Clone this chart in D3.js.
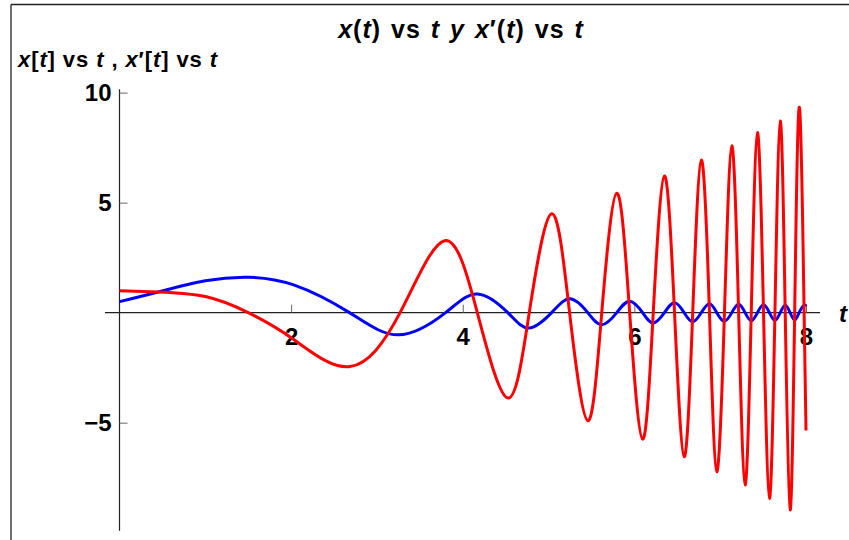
<!DOCTYPE html>
<html>
<head>
<meta charset="utf-8">
<script src="https://cdn.jsdelivr.net/npm/d3@7"></script>
<style>
  body { margin: 0; background: #fff; }
  svg { display: block; font-family: "Liberation Sans", Arial, sans-serif; }
</style>
</head>
<body>
<svg id="chart" width="849" height="540"></svg>
<script>
// x(t): blue curve (extrema, zero crossings, a few in between)
const tX = [0, 0.45, 1.0, 1.5, 2.03, 2.68, 3.25, 3.80, 4.17, 4.525, 4.77, 5.036, 5.25, 5.457, 5.62, 5.795,
            5.945, 6.096, 6.22, 6.35, 6.468, 6.58, 6.68, 6.78, 6.875, 6.96, 7.05, 7.135, 7.215, 7.29, 7.362,
            7.434, 7.505, 7.574, 7.638, 7.70, 7.758, 7.815, 7.868, 7.92, 7.975, 8.0];
const xVals = [0.5, 0.94, 1.45, 1.61, 1.26, 0, -1.01, 0, 0.85, 0, -0.70, 0, 0.63, 0, -0.55, 0,
               0.52, 0, -0.47, 0, 0.45, 0, -0.42, 0, 0.40, 0, -0.39, 0, 0.38, 0, -0.37,
               0, 0.36, 0, -0.35, 0, 0.34, 0, -0.34, 0, 0.33, 0.28];

// x'(t): red curve
const tV = [0, 0.45, 1.0, 1.5, 2.03, 2.686, 3.27, 3.79, 4.17, 4.525, 4.775, 5.036, 5.245, 5.457, 5.62, 5.795,
            5.945, 6.096, 6.22, 6.35, 6.468, 6.58, 6.68, 6.78, 6.875, 6.96, 7.05, 7.135, 7.215, 7.29, 7.362,
            7.434, 7.505, 7.574, 7.638, 7.70, 7.758, 7.815, 7.868, 7.924, 7.978, 8.0];
const vVals = [1.0, 0.94, 0.73, 0, -1.22, -2.45, 0, 3.27, 0, -3.88, 0, 4.49, 0, -4.91, 0, 5.43,
               0, -5.75, 0, 6.21, 0, -6.55, 0, 6.94, 0, -7.23, 0, 7.58, 0, -7.83, 0,
               8.18, 0, -8.44, 0, 8.71, 0, -8.97, 0, 9.32, 0, -5.36];

const xTicksMajor = [2, 4, 6, 8];
const xTicksMinor = [0.5, 1, 1.5, 2.5, 3, 3.5, 4.5, 5, 5.5, 6.5, 7, 7.5];
const yTicksMajor = [-5, 5, 10];
const yTicksMinor = [-9, -8, -7, -6, -4, -3, -2, -1, 1, 2, 3, 4, 6, 7, 8, 9];

const svg = d3.select("#chart");

const x = d3.scaleLinear().domain([0, 8]).range([119.5, 806]);
const y = d3.scaleLinear().domain([-9.91, 10.15]).range([530.7, 89.3]);

// notebook cell frame (top and left)
svg.append("line").attr("x1", 11).attr("x2", 849).attr("y1", 4.5).attr("y2", 4.5)
  .attr("stroke", "#222").attr("stroke-width", 1.3);
svg.append("line").attr("x1", 11).attr("x2", 11).attr("y1", 4.5).attr("y2", 540)
  .attr("stroke", "#222").attr("stroke-width", 1.3);

// axes lines
svg.append("line").attr("x1", 105).attr("x2", 820).attr("y1", y(0)).attr("y2", y(0))
  .attr("stroke", "#222").attr("stroke-width", 1.2);
svg.append("line").attr("x1", x(0)).attr("x2", x(0)).attr("y1", 89.3).attr("y2", 530.7)
  .attr("stroke", "#222").attr("stroke-width", 1.2);

// x ticks
const gx = svg.append("g").attr("transform", `translate(0,${y(0)})`);
gx.call(d3.axisBottom(x).tickValues(xTicksMinor).tickSize(-5).tickFormat(""));
gx.call(d3.axisBottom(x).tickValues(xTicksMajor).tickSize(-8).tickPadding(15).tickFormat(d3.format("d")));
gx.selectAll(".domain").remove();

// y ticks
const gy = svg.append("g").attr("transform", `translate(${x(0)},0)`);
gy.call(d3.axisLeft(y).tickValues(yTicksMinor).tickSize(-5).tickFormat(""));
gy.call(d3.axisLeft(y).tickValues(yTicksMajor).tickSize(-8).tickPadding(8).tickFormat(d3.format("d")));
gy.selectAll(".domain").remove();

svg.selectAll(".tick line").attr("stroke", "#666").attr("stroke-width", 1);
svg.selectAll(".tick text").attr("fill", "#000").attr("font-size", 24).attr("font-weight", "bold")
  .attr("font-family", "Liberation Sans, Arial, sans-serif");

// curves
const line = d3.line().x(d => x(d[0])).y(d => y(d[1])).curve(d3.curveNatural);
svg.append("path").datum(d3.zip(tX, xVals)).attr("d", line)
  .attr("fill", "none").attr("stroke", "#0000ff").attr("stroke-width", 3);
svg.append("path").datum(d3.zip(tV, vVals)).attr("d", line)
  .attr("fill", "none").attr("stroke", "#ff0000").attr("stroke-width", 3);

// labels
function rich(sel, parts) {
  parts.forEach(p => sel.append("tspan").attr("font-style", p[1] ? "italic" : "normal").text(p[0]));
}
const title = svg.append("text").attr("x", 461).attr("y", 38).attr("text-anchor", "middle")
  .attr("font-size", 25).attr("font-weight", "bold").attr("letter-spacing", 1).attr("word-spacing", 2);
rich(title, [["x", 1], ["(", 0], ["t", 1], [")", 0], [" vs ", 0], ["t", 1], [" ", 0], ["y", 1], [" ", 0],
             ["x", 1], ["\u2032(", 0], ["t", 1], [")", 0], [" vs ", 0], ["t", 1]]);

const ylab = svg.append("text").attr("x", 18).attr("y", 67).attr("font-size", 22).attr("font-weight", "bold")
  .attr("letter-spacing", 0.9);
rich(ylab, [["x", 1], ["[", 0], ["t", 1], ["]", 0], [" vs ", 0], ["t", 1], [" , ", 0],
            ["x", 1], ["\u2032[", 0], ["t", 1], ["]", 0], [" vs ", 0], ["t", 1]]);

svg.append("text").attr("x", 839).attr("y", 322).attr("font-size", 24).attr("font-weight", "bold")
  .attr("font-style", "italic").text("t");
</script>
</body>
</html>
